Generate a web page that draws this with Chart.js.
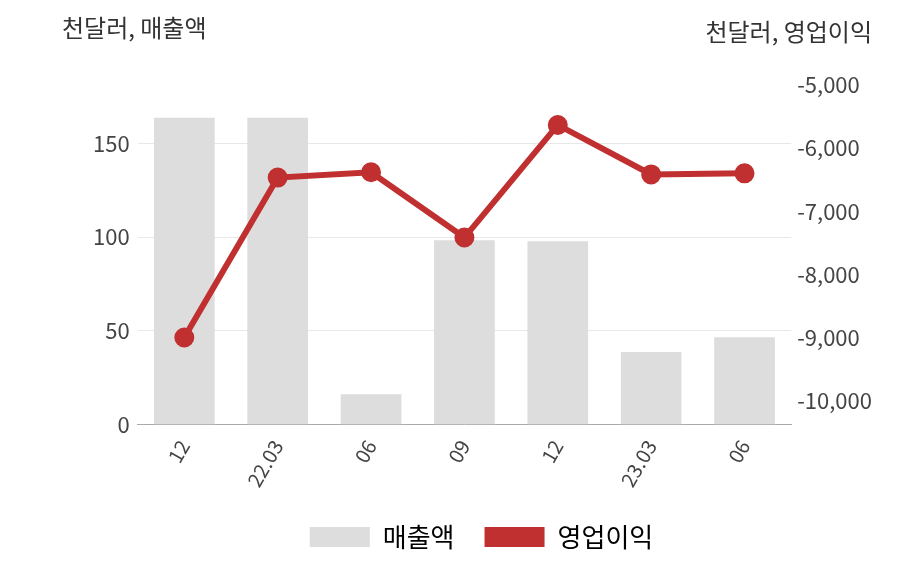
<!DOCTYPE html><html><head><meta charset="utf-8">
<script src="https://cdn.jsdelivr.net/npm/chart.js@4"></script>
<style>body{margin:0;background:#fff}#w{width:908px;height:580px}</style></head><body><div id="w"><canvas id="c"></canvas></div>
<script>
const categories=['12','22.03','06','09','12','23.03','06'];
const sales=[163.5,163.5,16.3,98.3,97.8,38.8,46.6];
const opIncome=[-9000,-6467,-6383,-7417,-5633,-6417,-6400];
const leftTicks=[0,50,100,150];
const rightTicks=[-10000,-9000,-8000,-7000,-6000,-5000];
const F='"Noto Sans CJK KR","Noto Sans",sans-serif';
const titles={id:'t',afterDraw(ch){const x=ch.ctx;x.save();x.font='24px '+F;x.fillStyle='#333';x.textBaseline='middle';
x.textAlign='left';x.fillText('천달러, 매출액',62,28);x.textAlign='right';x.fillText('천달러, 영업이익',872,32);x.restore();}};
new Chart(document.getElementById('c'),{data:{labels:categories,datasets:[
{type:'bar',label:'매출액',data:sales,yAxisID:'y',backgroundColor:'#dddddd',barPercentage:0.65,categoryPercentage:1,order:1},
{type:'line',label:'영업이익',data:opIncome,yAxisID:'y1',borderColor:'#c03030',backgroundColor:'#c03030',borderWidth:6,pointRadius:7,pointHoverRadius:7,tension:0,order:0}]},
options:{responsive:true,maintainAspectRatio:false,animation:false,
layout:{padding:{top:85,left:85,right:30,bottom:20}},
plugins:{legend:{position:'bottom',labels:{font:{size:26,family:F},color:'#333',boxWidth:60,boxHeight:20,padding:30,
generateLabels(ch){return [{text:'매출액',fillStyle:'#dddddd',strokeStyle:'#dddddd',lineWidth:0,datasetIndex:0},{text:'영업이익',fillStyle:'#c03030',strokeStyle:'#c03030',lineWidth:0,datasetIndex:1}];}}},tooltip:{enabled:false}},
scales:{x:{grid:{display:false},border:{color:'#aaa'},ticks:{color:'#444',font:{size:20,family:F},maxRotation:60,minRotation:60}},
y:{position:'left',min:0,max:181,afterBuildTicks(a){a.ticks=leftTicks.map(v=>({value:v}));},ticks:{color:'#444',font:{size:22,family:F},padding:8},grid:{color:'#e8e8e8',drawTicks:false},border:{display:false}},
y1:{position:'right',min:-10383,max:-5000,afterBuildTicks(a){a.ticks=rightTicks.map(v=>({value:v}));},ticks:{color:'#444',font:{size:22,family:F},callback:v=>v.toLocaleString('en-US'),padding:6},grid:{display:false,drawTicks:false},border:{display:false}}}},
plugins:[titles]});
</script></body></html>
